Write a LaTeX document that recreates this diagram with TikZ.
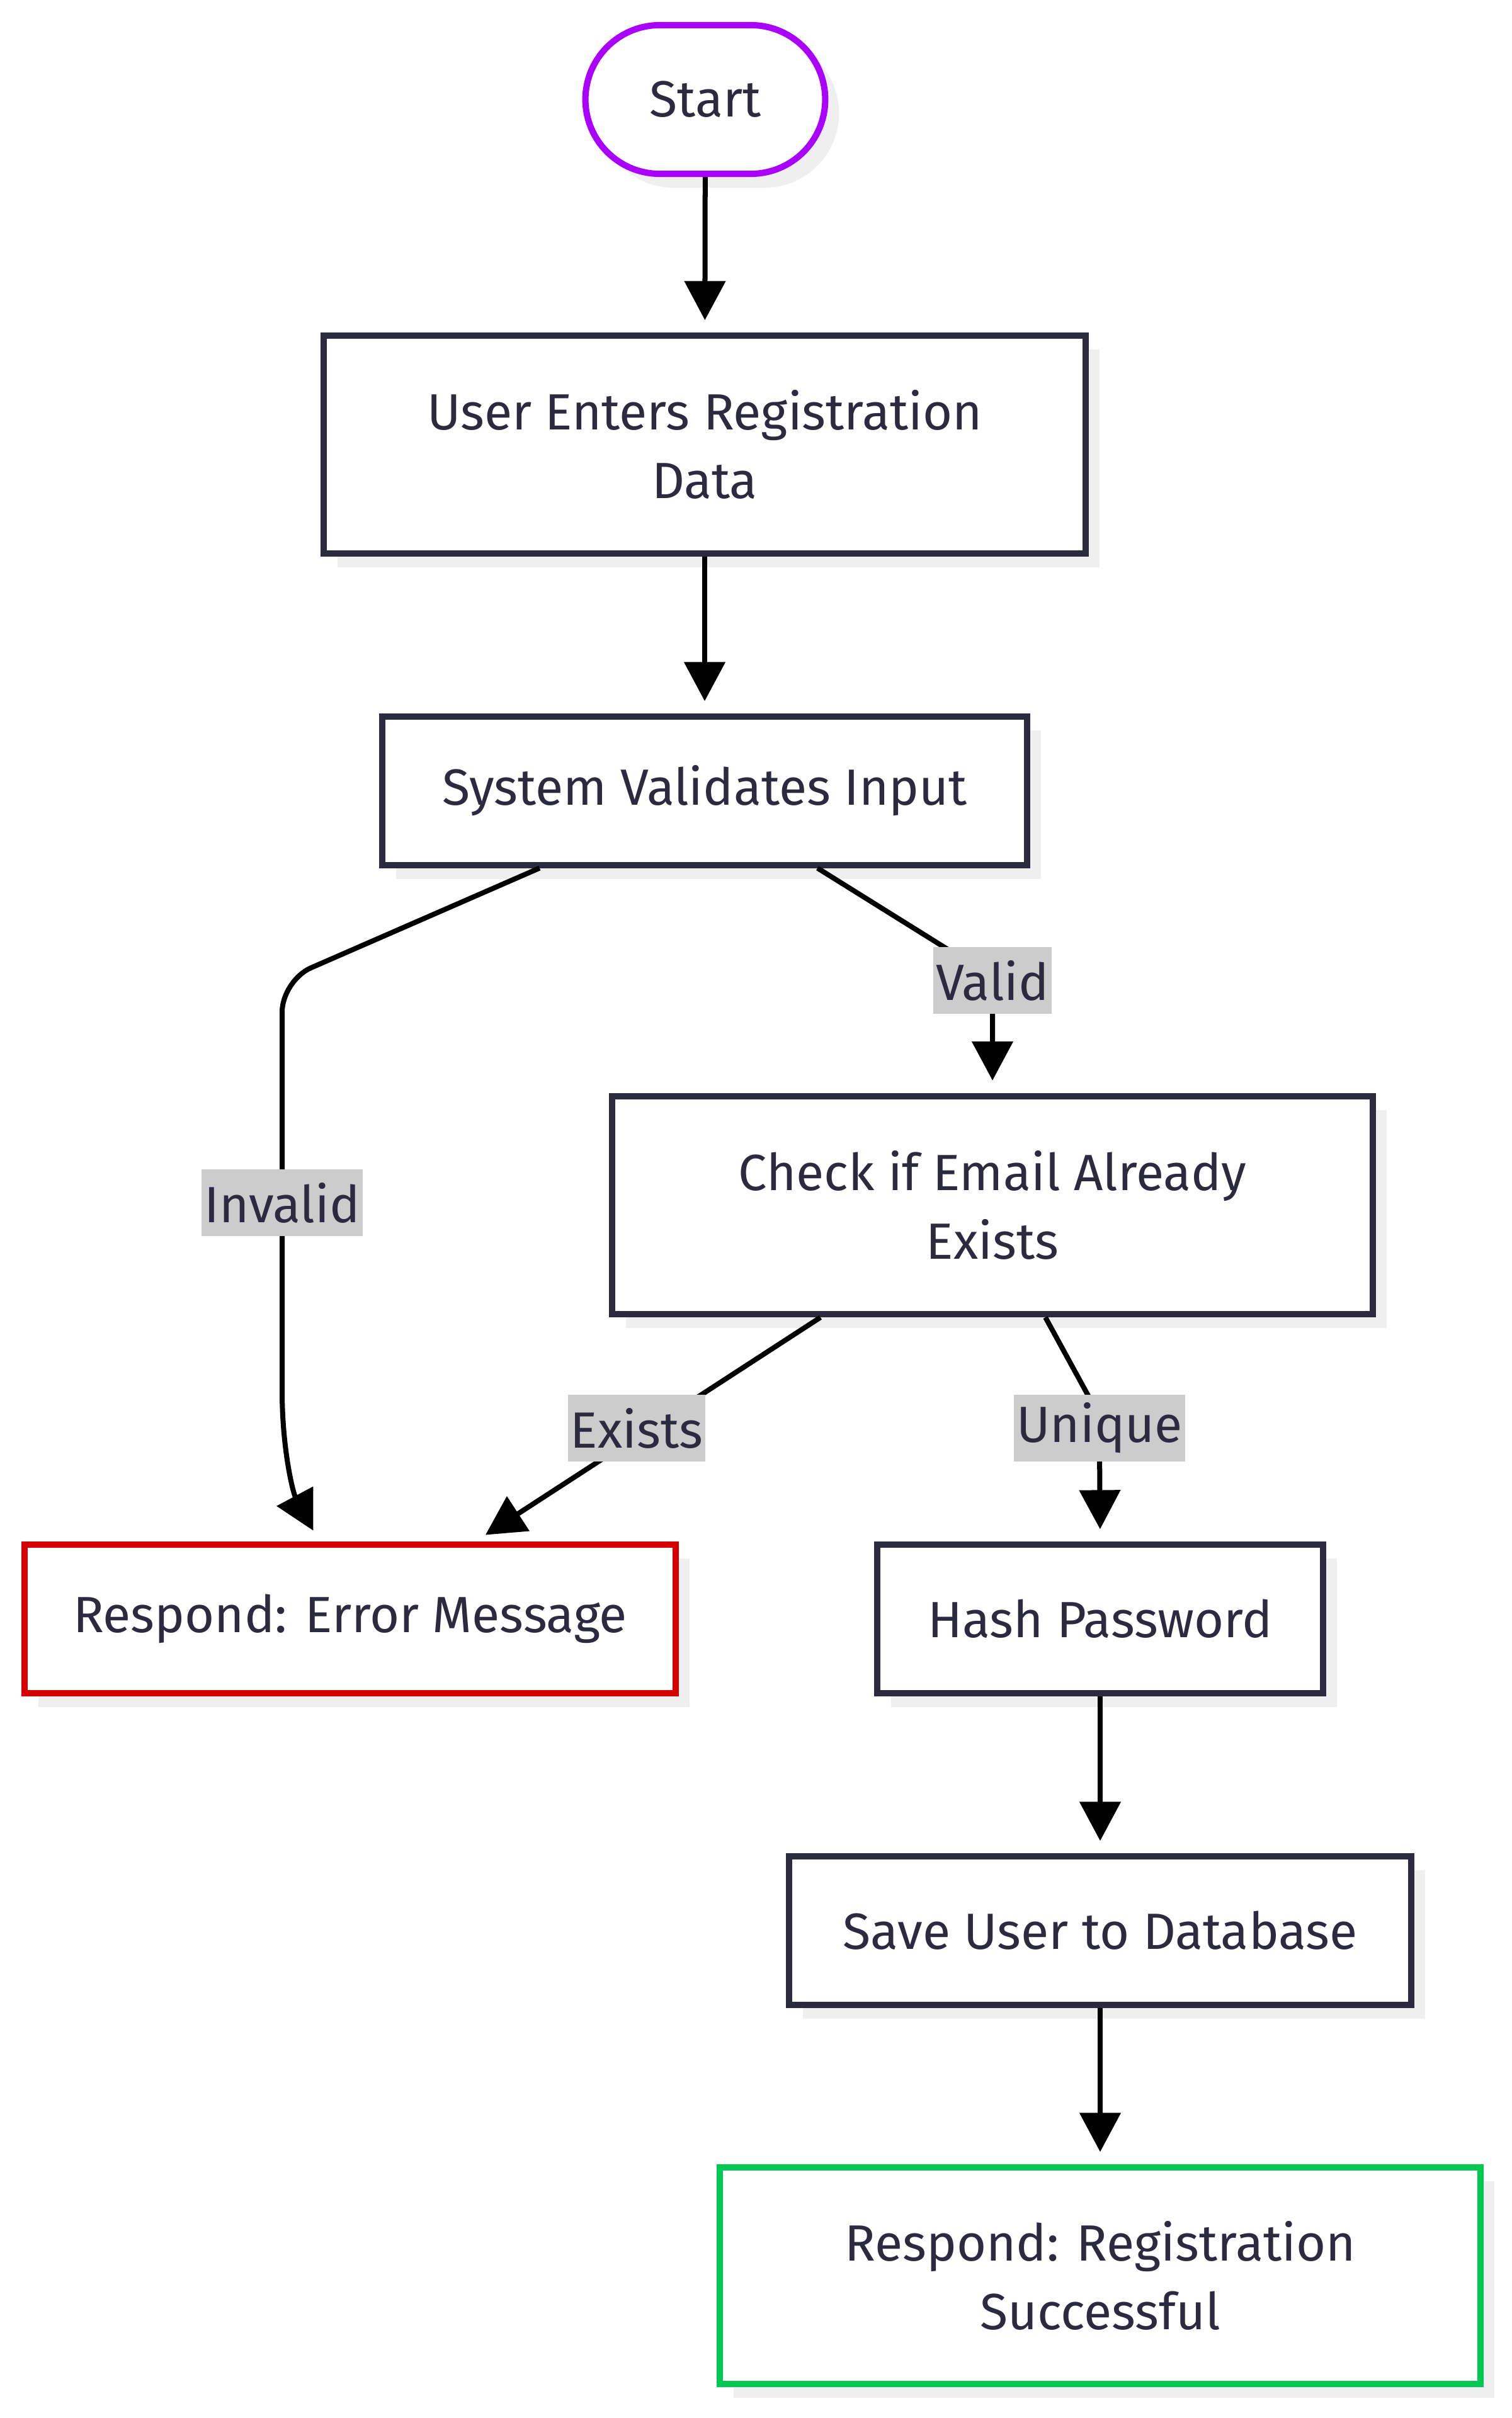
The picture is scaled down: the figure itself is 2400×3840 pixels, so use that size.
\documentclass[tikz,border=0pt]{standalone}
\usepackage{fontspec}
\setmainfont{Fira Sans}
\usetikzlibrary{shapes.misc, arrows.meta, shadows}

\definecolor{ink}{HTML}{2B2A3F}
\definecolor{startpurple}{HTML}{AA00FF}
\definecolor{errred}{HTML}{D50000}
\definecolor{okgreen}{HTML}{00C853}
\definecolor{lblgray}{HTML}{CCCCCC}
\definecolor{shadowgray}{HTML}{EFEFEF}

\tikzset{
  box/.style={draw=ink, line width=0.1cm, fill=white, text=ink, align=center,
    font=\fontsize{23}{31}\selectfont,
    drop shadow={shadow xshift=0.22cm, shadow yshift=-0.22cm, fill=shadowgray, opacity=1}},
  lbl/.style={fill=lblgray, text=ink, inner xsep=0.04cm, inner ysep=0pt,
    minimum height=1.05cm, font=\fontsize{23}{31}\selectfont},
  flow/.style={line width=0.08cm, shorten >=0.2cm,
    -{Triangle[length=0.62cm, width=0.64cm]}}
}

\begin{document}
\begin{tikzpicture}[x=0.01cm, y=-0.01cm]
    \useasboundingbox (0,0) rectangle (2400,3840);

    % Steps of the registration
    \node[box, rounded rectangle, draw=startpurple, minimum width=4.04cm,
      minimum height=2.36cm] (start) at (1120,158) {Start};
    \node[box, minimum width=12.1cm, minimum height=3.45cm] (enter) at (1119,706)
      {User Enters Registration\\Data};
    \node[box, minimum width=10.24cm, minimum height=2.35cm] (validate) at (1119,1256)
      {System Validates Input};
    \node[box, minimum width=12.08cm, minimum height=3.46cm] (check) at (1576,1914)
      {Check if Email Already\\Exists};
    \node[box, draw=errred, minimum width=10.34cm, minimum height=2.35cm] (error)
      at (556,2571) {Respond: Error Message};
    \node[box, minimum width=7.07cm, minimum height=2.35cm] (hash) at (1747,2571)
      {Hash Password};
    \node[box, minimum width=9.87cm, minimum height=2.35cm] (save) at (1747,3066)
      {Save User to Database};
    \node[box, draw=okgreen, minimum width=12.07cm, minimum height=3.43cm] (success)
      at (1747,3614) {Respond: Registration\\Successful};

    % Straight arrows
    \draw[flow] (start) -- (enter);
    \draw[flow] (enter) -- (validate);
    \draw[flow] (hash) -- (save);
    \draw[flow] (save) -- (success);

    % Valid branch
    \draw[flow] ([xshift=1.79cm]validate.south) -- (1576,1552) -- (check.north);
    \node[lbl] (validlbl) at (1576,1557) {Valid};

    % Invalid branch
    \draw[flow, rounded corners=0.5cm] ([xshift=-2.62cm]validate.south) -- (448,1557)
      -- (448,2160) .. controls (448,2300) and (465,2370) .. ([xshift=-0.49cm]error.north);
    \node[lbl] (invalidlbl) at (448,1910) {Invalid};

    % Email already taken
    \draw[flow] ([xshift=-2.73cm]check.south) -- ([xshift=1.98cm]error.north);
    \node[lbl] (existslbl) at (1011,2268) {Exists};

    % Email is new
    \draw[flow] ([xshift=0.84cm]check.south) -- (1730,2220)
      .. controls (1746,2250) .. (1746,2300) -- (hash.north);
    \node[lbl] (uniquelbl) at (1746,2268) {Unique};
\end{tikzpicture}
\end{document}
